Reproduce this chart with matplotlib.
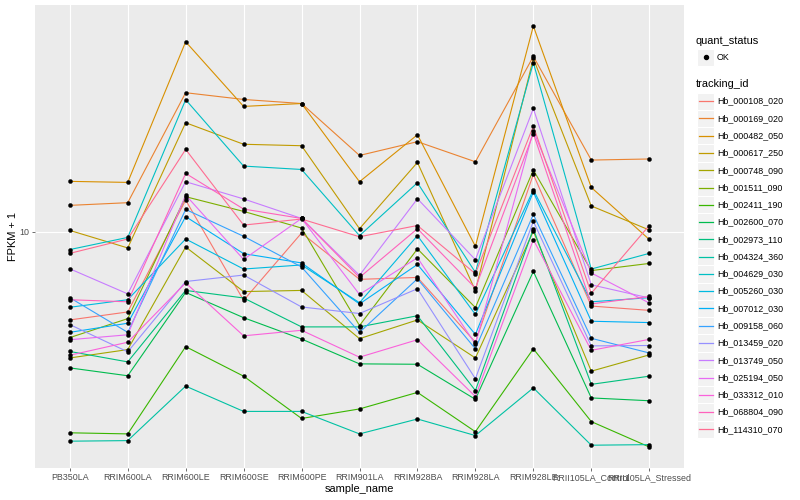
import numpy as np
import matplotlib
matplotlib.use("Agg")
import matplotlib.pyplot as plt
from matplotlib.patches import Rectangle
from matplotlib.lines import Line2D
from matplotlib.ticker import NullLocator, FixedLocator

plt.rcParams['font.family'] = ['Liberation Sans', 'DejaVu Sans']

samples = ["PB350LA", "RRIM600LA", "RRIM600LE", "RRIM600SE", "RRIM600PE",
           "RRIM901LA", "RRIM928BA", "RRIM928LA", "RRIM928LE",
           "RRII105LA_Control", "RRII105LA_Stressed"]

tracking_ids = ["Hb_000108_020", "Hb_000169_020", "Hb_000482_050", "Hb_000617_250",
                "Hb_000748_090", "Hb_001511_090", "Hb_002411_190", "Hb_002600_070",
                "Hb_002973_110", "Hb_004324_360", "Hb_004629_030", "Hb_005260_030",
                "Hb_007012_030", "Hb_009158_060", "Hb_013459_020", "Hb_013749_050",
                "Hb_025194_050", "Hb_033312_010", "Hb_068804_090", "Hb_114310_070"]

colors = ["#F8766D", "#EA8331", "#D89000", "#C09B00", "#A3A500", "#7CAE00", "#39B600",
          "#00BB4E", "#00BF7D", "#00C1A3", "#00BFC4", "#00BAE0", "#00B0F6", "#35A2FF",
          "#9590FF", "#C77CFF", "#E76BF3", "#FA62DB", "#FF62BC", "#FF6C91"]

# FPKM + 1 per sample (order of `samples`)
Hb_000108_020 = [6.66, 6.91, 11.57, 7.29, 9.94, 8.03, 8.10, 6.01, 13.02, 7.10, 6.96]
Hb_000169_020 = [11.29, 11.43, 18.97, 18.39, 18.05, 14.21, 15.14, 13.80, 22.42, 13.91, 13.98]
Hb_000482_050 = [12.61, 12.55, 23.99, 17.81, 18.05, 12.59, 15.63, 9.35, 25.79, 12.26, 9.65]
Hb_000617_250 = [10.06, 9.28, 16.52, 14.96, 14.86, 10.14, 13.76, 7.62, 22.21, 11.26, 10.08]
Hb_000748_090 = [5.59, 5.81, 9.32, 7.59, 7.63, 6.11, 6.66, 5.59, 10.02, 5.26, 5.67]
Hb_001511_090 = [6.14, 6.70, 11.75, 10.98, 10.17, 6.49, 9.24, 7.05, 13.29, 8.36, 8.64]
Hb_002411_190 = [3.96, 3.94, 5.89, 5.14, 4.23, 4.42, 4.77, 3.98, 5.83, 4.17, 3.71]
Hb_002600_070 = [5.34, 5.15, 7.56, 6.73, 6.10, 5.44, 5.43, 4.62, 8.33, 4.65, 4.59]
Hb_002973_110 = [5.76, 5.49, 7.63, 7.37, 6.45, 6.45, 6.79, 4.81, 10.13, 4.95, 5.14]
Hb_004324_360 = [3.81, 3.82, 4.91, 4.37, 4.37, 3.94, 4.22, 3.91, 4.87, 3.74, 3.75]
Hb_004629_030 = [9.21, 9.74, 18.37, 13.53, 13.32, 9.82, 12.53, 8.29, 21.78, 8.42, 9.05]
Hb_005260_030 = [7.06, 7.31, 9.67, 8.42, 8.58, 7.21, 9.82, 6.83, 12.12, 7.24, 7.38]
Hb_007012_030 = [6.29, 6.56, 10.72, 9.04, 8.66, 7.17, 8.60, 6.23, 12.01, 6.62, 6.58]
Hb_009158_060 = [7.38, 6.29, 11.08, 9.79, 8.50, 6.29, 8.05, 5.83, 10.83, 6.12, 5.72]
Hb_013459_020 = [6.52, 5.75, 7.95, 8.19, 7.07, 6.86, 7.69, 5.08, 10.49, 5.91, 5.92]
Hb_013749_050 = [8.43, 7.51, 12.59, 11.63, 10.63, 8.18, 11.64, 8.79, 17.64, 7.83, 7.37]
Hb_025194_050 = [6.08, 6.22, 11.84, 8.80, 10.63, 7.49, 8.87, 5.96, 15.92, 8.27, 7.20]
Hb_033312_010 = [5.66, 6.01, 7.90, 6.19, 6.35, 5.61, 6.08, 4.68, 9.64, 5.79, 6.09]
Hb_068804_090 = [7.31, 7.24, 13.08, 11.10, 10.63, 8.10, 10.14, 7.71, 15.72, 7.17, 7.42]
Hb_114310_070 = [9.05, 9.67, 14.61, 10.31, 10.60, 9.77, 10.29, 8.24, 16.27, 7.53, 10.29]

series = [Hb_000108_020, Hb_000169_020, Hb_000482_050, Hb_000617_250, Hb_000748_090,
          Hb_001511_090, Hb_002411_190, Hb_002600_070, Hb_002973_110, Hb_004324_360,
          Hb_004629_030, Hb_005260_030, Hb_007012_030, Hb_009158_060, Hb_013459_020,
          Hb_013749_050, Hb_025194_050, Hb_033312_010, Hb_068804_090, Hb_114310_070]

W, H = 800, 500
fig = plt.figure(figsize=(W / 100, H / 100), dpi=100)
fig.patch.set_facecolor("white")

def fx(x):
    return x / W

def fy(y):
    return 1 - y / H

# panel in pixels: x 35..684, y 5..468
ax = fig.add_axes([fx(35), fy(468), fx(684) - fx(35), fy(5) - fy(468)])
ax.set_facecolor("#EBEBEB")
for s in ax.spines.values():
    s.set_visible(False)

xs = np.arange(len(samples))
for vals, col in zip(series, colors):
    ax.plot(xs, vals, color=col, lw=0.8, zorder=3, solid_capstyle="butt")
for vals in series:
    ax.plot(xs, vals, ls="none", marker="o", ms=2.9, mfc="black", mec="black",
            mew=0.3, zorder=4)

ax.set_yscale("log")
allv = np.log10(np.concatenate([np.array(v) for v in series]))
lo, hi = allv.min(), allv.max()
pad = 0.05 * (hi - lo)
ax.set_ylim(10 ** (lo - pad), 10 ** (hi + pad))
ax.set_xlim(-0.6, len(samples) - 0.4)

ax.yaxis.set_major_locator(FixedLocator([10]))
ax.yaxis.set_minor_locator(NullLocator())
ax.set_yticklabels(["10"])
ax.set_xticks(xs)
ax.set_xticklabels(samples)
ax.grid(True, which="major", color="white", lw=0.85, zorder=1)
ax.set_axisbelow(True)
ax.tick_params(axis="both", which="major", length=2.0, width=0.5, color="#333333",
               labelcolor="#4D4D4D", labelsize=6.4, pad=1.8)

fig.text(fx(359.5), fy(489), "sample_name", ha="center", va="center", fontsize=7.9,
         color="black")
fig.text(fx(13), fy(236.5), "FPKM + 1", ha="center", va="center", fontsize=7.9,
         rotation=90, color="black")

# legend: quant_status
fig.text(fx(696), fy(40.7), "quant_status", ha="left", va="center", fontsize=7.9)
kx0, kx1 = 697, 714
def key_box(yc):
    fig.add_artist(Rectangle((fx(kx0), fy(yc + 8.6)), fx(kx1) - fx(kx0), fy(yc - 8.6) - fy(yc + 8.6),
                             transform=fig.transFigure, facecolor="#F2F2F2", edgecolor="white",
                             lw=0.8))
key_box(57.3)
fig.add_artist(Line2D([fx(705.5)], [fy(57.3)], transform=fig.transFigure, marker="o", ms=2.9,
                      color="black", ls="none"))
fig.text(fx(717), fy(57.3), "OK", ha="left", va="center", fontsize=6.4)

# legend: tracking_id
fig.text(fx(696), fy(84), "tracking_id", ha="left", va="center", fontsize=7.9)
for i, (name, col) in enumerate(zip(tracking_ids, colors)):
    yc = 101.2 + i * 17.27
    key_box(yc)
    fig.add_artist(Line2D([fx(698.5), fx(712.5)], [fy(yc), fy(yc)], transform=fig.transFigure,
                          color=col, lw=0.9))
    fig.text(fx(717), fy(yc), name, ha="left", va="center", fontsize=6.4)

fig.savefig("out.png", dpi=100)
